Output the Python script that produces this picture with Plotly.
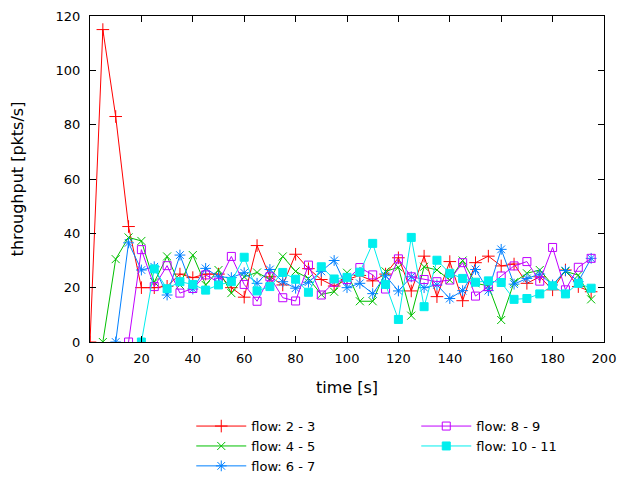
import plotly.graph_objects as go

times = list(range(0, 200, 5))

flow_2_3 = [0, 115, 83, 42.5, 20, 20, 20.5, 25, 23.7, 25, 25, 20, 16.5, 35.5, 24, 21,
            32.3, 27, 23, 20.6, 23, 24.5, 22.5, 25, 31, 18.8, 31.6, 16.7, 29.6, 15.2,
            29.2, 31.6, 28, 28.7, 21.6, 24, 19.2, 26.5, 20.4, 18.5]
flow_4_5 = [None, 0, 30.5, 38.5, 37.2, 22, 31.5, 21, 32, 21, 26.5, 18, 24, 25.6, 23, 31.5,
            26, 23.4, 17.5, 18.5, 25.5, 15, 15, 26, 27.5, 9.7, 27.7, 26.5, 22.8, 30,
            21.6, 20.7, 8.1, 22, 25.3, 26.5, 21, 26, 24.6, 15.7]
flow_6_7 = [None, None, 0, 36.5, 26.5, 27.7, 17.3, 32, 19.5, 27.1, 24, 23.7, 25.5, 21.6,
            26.7, 22.2, 19.8, 22, 26, 30, 20, 21.6, 17.8, 24.4, 18.8, 24, 20, 21, 16,
            18.9, 26.7, 18.9, 34.1, 21.3, 23.4, 25, 21, 26.3, 22.2, 30.8]
flow_8_9 = [None, None, None, 0, 34, 20.4, 28.1, 18, 19.7, 24.7, 22, 31.5, 21.2, 15,
            24, 16.3, 15.1, 28.3, 17.3, 22, 23, 27.4, 24.7, 19.5, 30.6, 24, 23, 22.2,
            22.8, 29.2, 16.9, 20.4, 24.3, 28, 29.6, 22.4, 34.8, 19.2, 27.5, 30.8]
flow_10_11 = [None, None, None, None, 0, 26.9, 19.6, 22.2, 21.2, 19.1, 21, 22.2, 31.2,
              18.8, 20.4, 25.6, 23.1, 18.3, 27.7, 23.2, 23.8, 25.7, 36.3, 21.2, 8.3,
              38.5, 13, 30.1, 25.3, 23.4, 22, 22.5, 21.9, 15.7, 16, 17.7, 20.7, 17.7,
              21.6, 19.8]

names = ["flow: 2 - 3", "flow: 4 - 5", "flow: 6 - 7", "flow: 8 - 9", "flow: 10 - 11"]
series = [flow_2_3, flow_4_5, flow_6_7, flow_8_9, flow_10_11]
colors = ["#ff0000", "#00c000", "#0080ff", "#c000ff", "#00eeee"]
symbols = ["cross-thin-open", "x-thin-open", "asterisk-open", "square-open", "square"]
sizes = [9, 8, 9, 8, 8]
ranks = [1, 3, 5, 2, 4]

x_ticks = list(range(0, 201, 20))
y_ticks = list(range(0, 121, 20))

fig = go.Figure()
for name, ys, c, s, sz, rk in zip(names, series, colors, symbols, sizes, ranks):
    fig.add_trace(go.Scatter(
        x=times, y=ys, name=name, mode="lines+markers",
        line=dict(color=c, width=1),
        marker=dict(symbol=s, size=sz, color=c, line=dict(color=c, width=1)),
        legendrank=rk,
    ))

axis_common = dict(
    showline=True, linecolor="black", linewidth=1, mirror="ticks",
    ticks="inside", ticklen=6, tickcolor="black", tickwidth=1,
    showgrid=False, zeroline=False,
    tickfont=dict(family="DejaVu Sans", size=13, color="black"),
)

fig.update_layout(
    width=632, height=472,
    paper_bgcolor="white", plot_bgcolor="white",
    margin=dict(l=82, r=36, t=8, b=138, autoexpand=False),
    font=dict(family="DejaVu Sans", size=13, color="black"),
    xaxis=dict(range=[0, 200], tickvals=x_ticks, ticklabelstandoff=4,
               title=dict(text="time [s]", standoff=17), **axis_common),
    yaxis=dict(range=[0, 120], tickvals=y_ticks, ticklabelstandoff=6,
               title=dict(text="throughput [pkts/s]", standoff=31), **axis_common),
    showlegend=True,
    legend=dict(orientation="h", x=0.197, xanchor="left", y=-0.212, yanchor="top",
                entrywidth=160, entrywidthmode="pixels", itemwidth=50,
                traceorder="normal", tracegroupgap=0,
                font=dict(family="DejaVu Sans", size=13, color="black"),
                bgcolor="rgba(0,0,0,0)"),
)

fig.write_html("out.html")
